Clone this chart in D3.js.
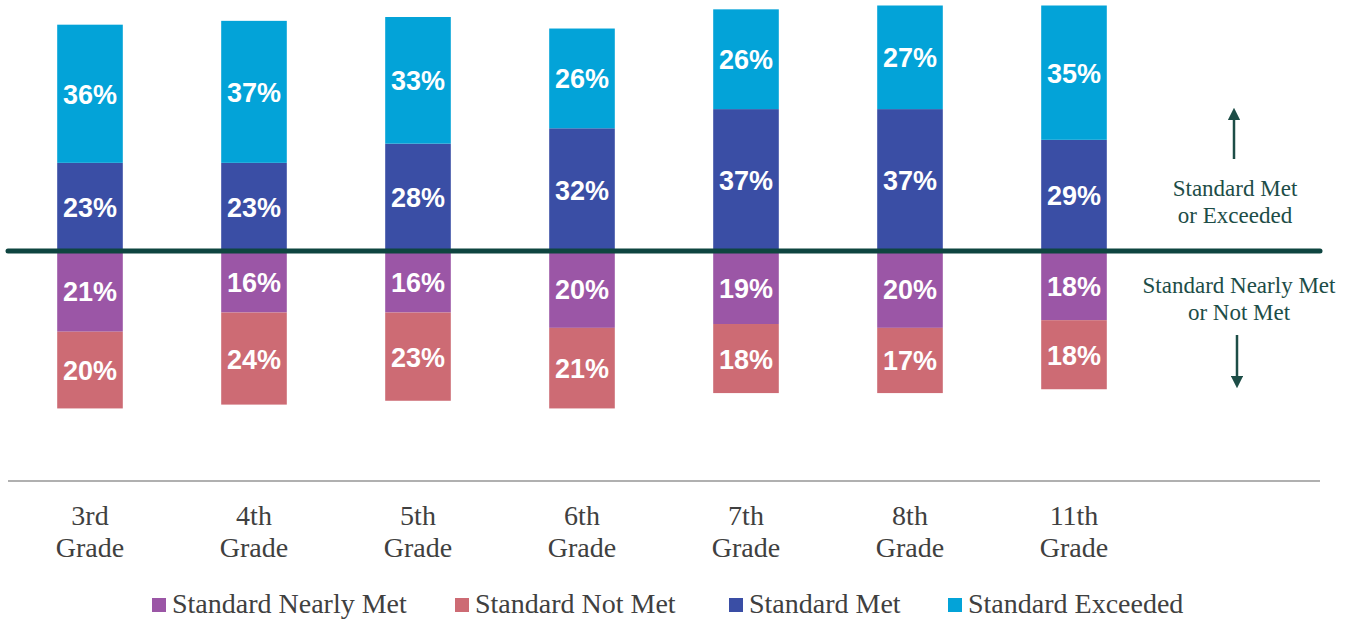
<!DOCTYPE html>
<html>
<head>
<meta charset="utf-8">
<script src="https://cdn.jsdelivr.net/npm/d3@7"></script>
<style>
  body { margin: 0; background: #fff; }
  svg { display: block; }
</style>
</head>
<body>
<svg id="chart"></svg>
<script>
// chart values
const grades = [["3rd", "Grade"], ["4th", "Grade"], ["5th", "Grade"], ["6th", "Grade"],
                ["7th", "Grade"], ["8th", "Grade"], ["11th", "Grade"]];
const exceeded  = [36, 37, 33, 26, 26, 27, 35];
const met       = [23, 23, 28, 32, 37, 37, 29];
const nearlyMet = [21, 16, 16, 20, 19, 20, 18];
const notMet    = [20, 24, 23, 21, 18, 17, 18];

const keys = ["nearlyMet", "notMet", "met", "exceeded"];
const labels = {
    nearlyMet: "Standard Nearly Met", notMet: "Standard Not Met",
    met: "Standard Met", exceeded: "Standard Exceeded"
};
const colors = {
    nearlyMet: "#9b56a6", notMet: "#cd6b74", met: "#3a4ea5", exceeded: "#03a3d8"
};

const width = 1353, height = 621;
const svg = d3.select("#chart").attr("width", width).attr("height", height);

// below-the-line series go negative
const rows = grades.map((g, i) => ({
    grade: g.join(" "),
    nearlyMet: -nearlyMet[i],
    notMet: -notMet[i],
    met: met[i],
    exceeded: exceeded[i]
}));

const series = d3.stack().keys(keys).offset(d3.stackOffsetDiverging)(rows);

const x = d3.scaleBand()
    .domain(rows.map(d => d.grade))
    .range([8, 1156])
    .paddingInner(0.6)
    .paddingOuter(0.3);

const y = d3.scaleLinear().domain([-40, 64]).range([404.6, 5.5]);

// bars
const layer = svg.append("g").selectAll("g")
    .data(series)
    .enter().append("g")
    .attr("fill", d => colors[d.key]);

layer.selectAll("rect")
    .data(d => d)
    .enter().append("rect")
    .attr("x", d => x(d.data.grade))
    .attr("width", x.bandwidth())
    .attr("y", d => y(Math.max(d[0], d[1])))
    .attr("height", d => Math.abs(y(d[0]) - y(d[1])));

// value labels
layer.selectAll("text")
    .data(d => d)
    .enter().append("text")
    .attr("x", d => x(d.data.grade) + x.bandwidth() / 2)
    .attr("y", d => (y(d[0]) + y(d[1])) / 2)
    .attr("dy", "0.37em")
    .attr("text-anchor", "middle")
    .attr("fill", "#fff")
    .style("font", "bold 27px 'Liberation Sans', Arial, sans-serif")
    .text(d => Math.abs(d[1] - d[0]) + "%");

// zero line
svg.append("line")
    .attr("x1", 8).attr("x2", 1320)
    .attr("y1", y(0)).attr("y2", y(0))
    .attr("stroke", "#0e4540")
    .attr("stroke-width", 5)
    .attr("stroke-linecap", "round");

// axis line + grade labels
svg.append("line")
    .attr("x1", 8).attr("x2", 1320)
    .attr("y1", 481).attr("y2", 481)
    .attr("stroke", "#b0b0b0")
    .attr("stroke-width", 2);

const gradeText = svg.append("g").selectAll("text")
    .data(grades)
    .enter().append("text")
    .attr("x", (d, i) => x(rows[i].grade) + x.bandwidth() / 2)
    .attr("y", 525)
    .attr("text-anchor", "middle")
    .attr("fill", "#404040")
    .style("font", "28px 'Liberation Serif', 'Times New Roman', serif");

gradeText.selectAll("tspan")
    .data(d => d)
    .enter().append("tspan")
    .attr("x", function () { return d3.select(this.parentNode).attr("x"); })
    .attr("dy", (d, i) => i ? 32 : 0)
    .text(d => d);

// side annotations
const teal = "#1d4d47";
svg.append("defs").append("marker")
    .attr("id", "head")
    .attr("viewBox", "0 0 10 10")
    .attr("refX", 5).attr("refY", 5)
    .attr("markerWidth", 5).attr("markerHeight", 5)
    .attr("orient", "auto")
    .append("path")
    .attr("d", "M0,0L10,5L0,10Z")
    .attr("fill", teal);

svg.append("line")
    .attr("x1", 1234).attr("x2", 1234).attr("y1", 159).attr("y2", 114)
    .attr("stroke", teal).attr("stroke-width", 2.5)
    .attr("marker-end", "url(#head)");
svg.append("line")
    .attr("x1", 1237).attr("x2", 1237).attr("y1", 335).attr("y2", 382)
    .attr("stroke", teal).attr("stroke-width", 2.5)
    .attr("marker-end", "url(#head)");

const note = (lines, cx, y0) => {
    svg.append("g").selectAll("text")
        .data(lines)
        .enter().append("text")
        .attr("x", cx)
        .attr("y", (d, i) => y0 + i * 27)
        .attr("text-anchor", "middle")
        .attr("fill", teal)
        .style("font", "23px 'Liberation Serif', 'Times New Roman', serif")
        .text(d => d);
};
note(["Standard Met", "or Exceeded"], 1235, 196);
note(["Standard Nearly Met", "or Not Met"], 1239, 293);

// legend
const legendX = [152, 455, 729, 948];
const legend = svg.append("g").selectAll("g")
    .data(keys)
    .enter().append("g")
    .attr("transform", (d, i) => "translate(" + legendX[i] + ",598)");

legend.append("rect")
    .attr("width", 14).attr("height", 14)
    .attr("fill", d => colors[d]);

legend.append("text")
    .attr("x", 20).attr("y", 15)
    .attr("fill", "#404040")
    .style("font", "28px 'Liberation Serif', 'Times New Roman', serif")
    .text(d => labels[d]);
</script>
</body>
</html>
